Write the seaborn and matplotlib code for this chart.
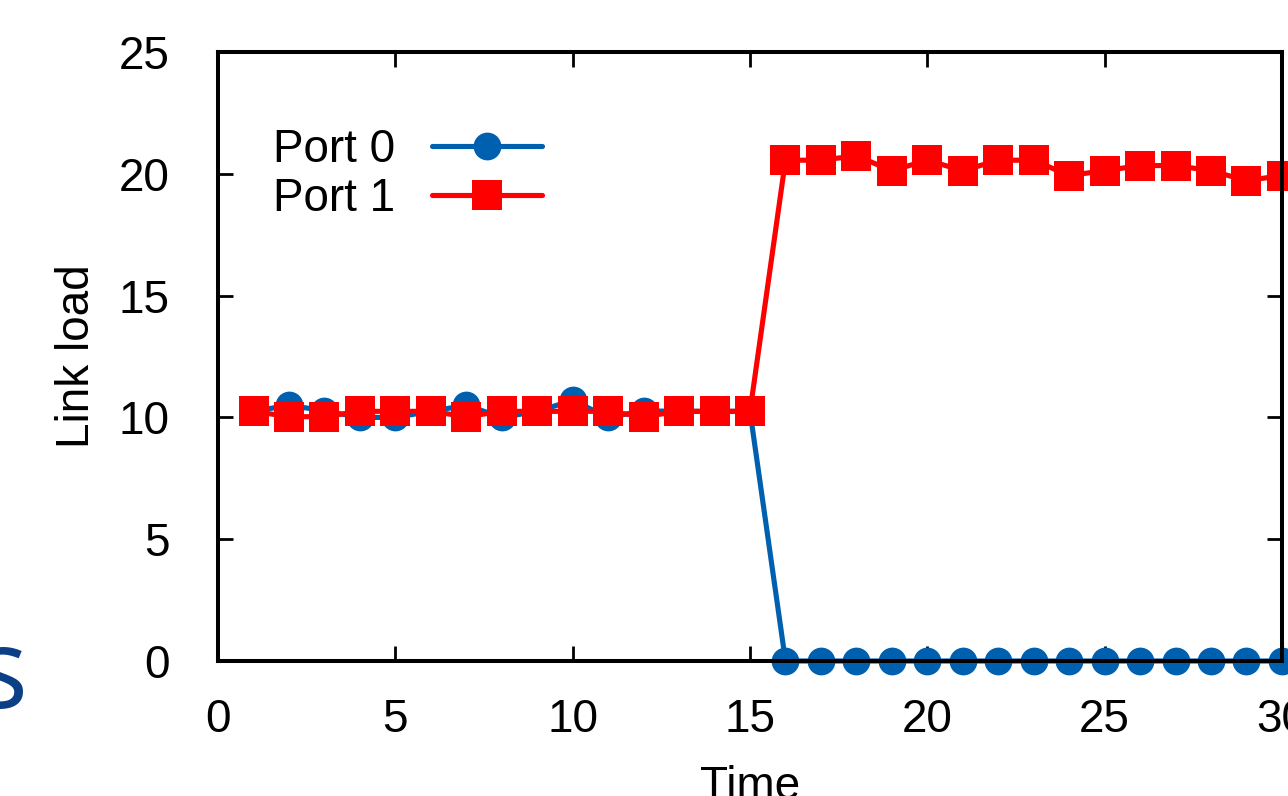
#!/usr/bin/env python3
# -*- coding: utf-8 -*-
"""
Link load on two ports over time (gnuplot-style line chart, seaborn).
"""

import numpy as np
import pandas as pd
import matplotlib
matplotlib.use("Agg")
import matplotlib.pyplot as plt
import seaborn as sns


# ---------------------------------------------------------------
# data
# ---------------------------------------------------------------
time = list(range(1, 31))
port0 = [10.25, 10.5, 10.27, 10.0, 10.0, 10.25, 10.5, 10.0, 10.25, 10.7,
         10.0, 10.27, 10.25, 10.25, 10.25,
         0, 0, 0, 0, 0, 0, 0, 0, 0, 0, 0, 0, 0, 0, 0]
port1 = [10.25, 10.03, 10.03, 10.25, 10.25, 10.25, 10.03, 10.25, 10.25, 10.25,
         10.25, 10.03, 10.25, 10.25, 10.25,
         20.56, 20.56, 20.74, 20.13, 20.56, 20.13, 20.56, 20.56, 19.93, 20.13,
         20.34, 20.34, 20.13, 19.72, 19.93]
x_ticks = [0, 5, 10, 15, 20, 25, 30]
y_ticks = [0, 5, 10, 15, 20, 25]

BLUE = "#0060b0"
RED = "#ff0000"

df = pd.DataFrame({"Time": time, "Port 0": port0, "Port 1": port1})

sns.set_style("ticks")
plt.rcParams["font.family"] = ["Liberation Sans", "DejaVu Sans"]
plt.rcParams["text.color"] = "black"
plt.rcParams["axes.labelcolor"] = "black"

fig = plt.figure(figsize=(12.88, 7.96), dpi=100)
ax = fig.add_axes([0.1693, 0.1696, 0.826, 0.765])

line_kw = dict(linewidth=3.7, markeredgewidth=0, clip_on=False)
sns.lineplot(data=df, x="Time", y="Port 0", ax=ax, color=BLUE, marker="o",
             markersize=20, label="Port 0", **line_kw)
sns.lineplot(data=df, x="Time", y="Port 1", ax=ax, color=RED, marker="s",
             markersize=21, label="Port 1", **line_kw)

ax.set_xlim(0, 30)
ax.set_ylim(0, 25)
ax.set_xticks(x_ticks)
ax.set_yticks(y_ticks)

for sp in ax.spines.values():
    sp.set_visible(True)
    sp.set_linewidth(2.9)
    sp.set_color("black")
    sp.set_zorder(5)

ax.tick_params(axis="both", direction="in", length=11, width=2,
               labelsize=33, top=True, right=True, colors="black")
ax.tick_params(axis="y", pad=35)
ax.tick_params(axis="x", pad=27)

ax.set_xlabel("Time", fontsize=33)
ax.set_ylabel("Link load", fontsize=33)
ax.xaxis.set_label_coords(0.5, -0.171)
ax.yaxis.set_label_coords(-0.112, 0.5)

leg = ax.legend(loc="upper left", bbox_to_anchor=(0.052, 0.875), frameon=False,
                fontsize=33, markerfirst=False, handlelength=2.4,
                handletextpad=0.8, labelspacing=0.1, borderpad=0,
                borderaxespad=0)
for t in leg.get_texts():
    t.set_color("black")

# fragment of slide text on the left edge
fig.text(0.021, 0.1106, "s", fontsize=80, color="#0b3f86", ha="right",
         va="baseline", family=["Open Sans", "DejaVu Sans"])

fig.savefig("out.png", dpi=100)
